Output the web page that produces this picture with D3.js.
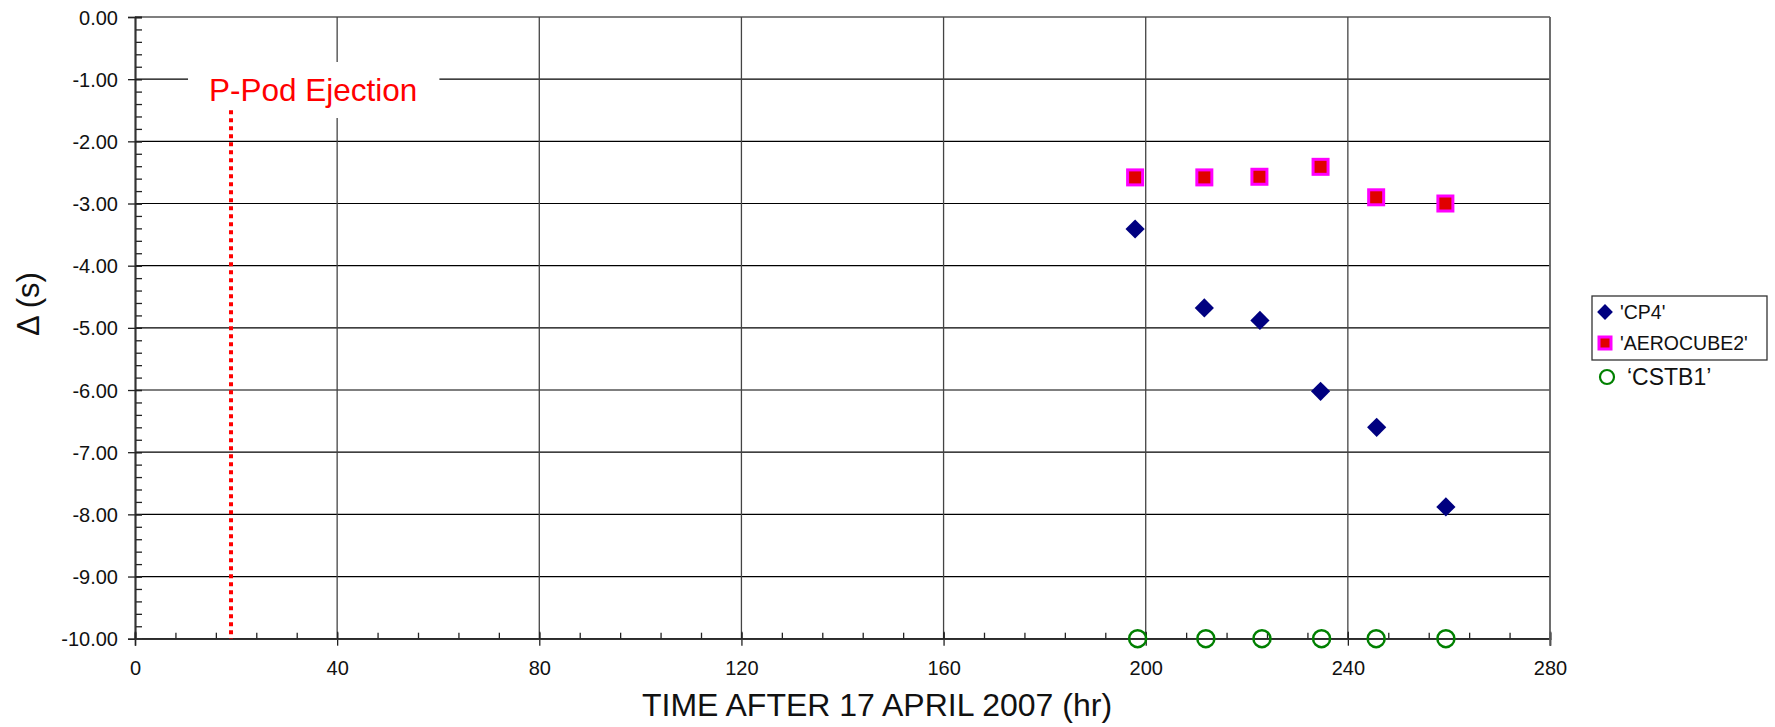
<!DOCTYPE html>
<html>
<head>
<meta charset="utf-8">
<script src="https://cdn.jsdelivr.net/npm/d3@7"></script>
<style>
  body { margin: 0; background: white; }
  svg text { font-family: "Liberation Sans", Arial, sans-serif; }
</style>
</head>
<body>
<svg id="chart" width="1775" height="727"></svg>
<script>
// Data.
const cp4X = [197.9, 211.6, 222.6, 234.6, 245.7, 259.4];
const cp4Y = [-3.41, -4.68, -4.88, -6.02, -6.60, -7.88];

const aeroX = [197.9, 211.6, 222.5, 234.6, 245.6, 259.3];
const aeroY = [-2.58, -2.58, -2.57, -2.41, -2.90, -3.00];

const cstbX = [198.4, 211.9, 223.0, 234.8, 245.6, 259.4];
const cstbY = [-10, -10, -10, -10, -10, -10];

const xTicks = [0, 40, 80, 120, 160, 200, 240, 280];
const xMinor = d3.range(0, 281, 8);
const yTicks = [0, -1, -2, -3, -4, -5, -6, -7, -8, -9, -10];
const yMinor = d3.range(-10, 0.001, 0.2);

const ejectionTime = 19;
const ejectionTop = -1.5;
const ejectionLabel = "P-Pod Ejection";

const legendNames = ["'CP4'", "'AEROCUBE2'", "\u2018CSTB1\u2019"];

// Layout.
const plotLeft = 135, plotRight = 1550, plotTop = 17, plotBottom = 638.7;

const svg = d3.select("#chart");

const x = d3.scaleLinear().domain([0, 280]).range([plotLeft, plotRight]);
const y = d3.scaleLinear().domain([-10, 0]).range([plotBottom, plotTop]);

// Grid lines.
svg.append("g")
  .selectAll("line")
  .data(yTicks)
  .join("line")
    .attr("x1", plotLeft).attr("x2", plotRight)
    .attr("y1", d => y(d)).attr("y2", d => y(d))
    .attr("stroke", "#000").attr("stroke-width", 1.2);

svg.append("g")
  .selectAll("line")
  .data(xTicks.filter(d => d > 0))
  .join("line")
    .attr("x1", d => x(d)).attr("x2", d => x(d))
    .attr("y1", plotTop).attr("y2", plotBottom)
    .attr("stroke", "#444").attr("stroke-width", 1.3);

// Annotation text, with a white box behind it.
const label = svg.append("text")
  .attr("x", x(ejectionTime) - 22)
  .attr("y", 100.7)
  .attr("font-size", 31.5)
  .attr("fill", "#ff0000")
  .text(ejectionLabel);
const bb = label.node().getBBox();
svg.insert("rect", "text")
  .attr("x", bb.x - 21).attr("y", 62)
  .attr("width", bb.width + 43).attr("height", 56)
  .attr("fill", "white");

// Axes: outward major ticks, inward major + minor ticks.
const yAxis = svg.append("g").attr("transform", `translate(${plotLeft},0)`);
yAxis.call(d3.axisLeft(y).tickValues(yTicks).tickSize(7).tickFormat(d => d.toFixed(2)));
yAxis.append("g").call(d3.axisLeft(y).tickValues(yMinor).tickSize(-7).tickFormat(""));
yAxis.append("g").call(d3.axisLeft(y).tickValues(yTicks).tickSize(-7).tickFormat(""));

const xAxis = svg.append("g").attr("transform", `translate(0,${plotBottom})`);
xAxis.call(d3.axisBottom(x).tickValues(xTicks).tickSize(7).tickFormat(d => d));
xAxis.append("g").call(d3.axisBottom(x).tickValues(xMinor).tickSize(-6).tickFormat(""));
xAxis.append("g").call(d3.axisBottom(x).tickValues(xTicks).tickSize(-7).tickFormat(""));

svg.selectAll(".domain").attr("stroke", "#333").attr("stroke-width", 1.5);
svg.selectAll(".tick line").attr("stroke", "#222").attr("stroke-width", 1.3);

yAxis.selectAll(".tick text")
  .attr("font-size", 20).attr("fill", "#111")
  .attr("x", -17).attr("dy", "0.35em");
xAxis.selectAll(".tick text")
  .attr("font-size", 20).attr("fill", "#111")
  .attr("y", 36).attr("dy", 0);

// Right border of the plot.
svg.append("line")
  .attr("x1", plotRight).attr("x2", plotRight)
  .attr("y1", plotTop).attr("y2", plotBottom + 7)
  .attr("stroke", "#666").attr("stroke-width", 1.5);

// Ejection marker line.
svg.append("line")
  .attr("x1", x(ejectionTime)).attr("x2", x(ejectionTime))
  .attr("y1", y(ejectionTop)).attr("y2", y(-10))
  .attr("stroke", "#ff0000").attr("stroke-width", 4)
  .attr("stroke-dasharray", "4,4");
label.raise();

// Axis titles.
svg.append("text")
  .attr("x", 877).attr("y", 716)
  .attr("text-anchor", "middle")
  .attr("font-size", 32).attr("fill", "#111")
  .text("TIME AFTER 17 APRIL 2007 (hr)");

svg.append("text")
  .attr("transform", "translate(28,304) rotate(-90)")
  .attr("text-anchor", "middle")
  .attr("dominant-baseline", "central")
  .attr("font-size", 31).attr("fill", "#111")
  .text("\u0394 (s)");

// Series.
const diamond = d3.symbol().type(d3.symbolSquare).size(185);

svg.append("g")
  .selectAll("path")
  .data(d3.zip(cp4X, cp4Y))
  .join("path")
    .attr("d", diamond)
    .attr("transform", d => `translate(${x(d[0])},${y(d[1])}) rotate(45)`)
    .attr("fill", "#000080");

svg.append("g")
  .selectAll("rect")
  .data(d3.zip(aeroX, aeroY))
  .join("rect")
    .attr("x", d => x(d[0]) - 7.5).attr("y", d => y(d[1]) - 7.5)
    .attr("width", 15).attr("height", 15)
    .attr("fill", "#e00000")
    .attr("stroke", "#ff00ff").attr("stroke-width", 3);

svg.append("g")
  .selectAll("circle")
  .data(d3.zip(cstbX, cstbY))
  .join("circle")
    .attr("cx", d => x(d[0])).attr("cy", d => y(d[1]))
    .attr("r", 8.5)
    .attr("fill", "none")
    .attr("stroke", "#008000").attr("stroke-width", 2.5);

// Legend.
const legend = svg.append("g");
legend.append("rect")
  .attr("x", 1592).attr("y", 296).attr("width", 175).attr("height", 64)
  .attr("fill", "white").attr("stroke", "#333").attr("stroke-width", 1.3);

legend.append("path")
  .attr("d", d3.symbol().type(d3.symbolSquare).size(125)())
  .attr("transform", "translate(1605,312) rotate(45)")
  .attr("fill", "#000080");
legend.append("rect")
  .attr("x", 1599).attr("y", 337).attr("width", 12).attr("height", 12)
  .attr("fill", "#e00000").attr("stroke", "#ff00ff").attr("stroke-width", 3);
legend.append("circle")
  .attr("cx", 1607).attr("cy", 377).attr("r", 7)
  .attr("fill", "none").attr("stroke", "#008000").attr("stroke-width", 2.2);

legend.selectAll("text")
  .data(legendNames)
  .join("text")
    .attr("x", (d, i) => i < 2 ? 1620 : 1627)
    .attr("y", (d, i) => [312, 343, 377][i])
    .attr("dy", "0.35em")
    .attr("font-size", (d, i) => i < 2 ? 19.5 : 23)
    .attr("fill", "#111")
    .text(d => d);
</script>
</body>
</html>
